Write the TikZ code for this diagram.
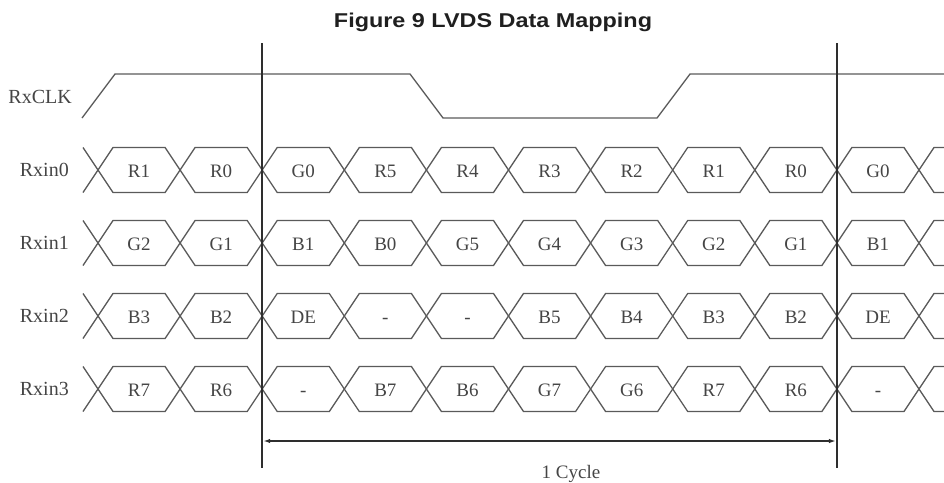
\documentclass[tikz,border=0pt]{standalone}
\usepackage{fontspec}
\setmainfont{Liberation Serif}
\newfontfamily\titlefont[FakeStretch=1.17]{Liberation Sans}
\usetikzlibrary{arrows.meta}
\definecolor{wave}{HTML}{5A5A5A}
\definecolor{txt}{HTML}{454545}
\definecolor{guide}{HTML}{2E2E2E}
\tikzset{
  wave/.style={draw=wave, line width=1.3pt, line join=miter},
  guideline/.style={draw=guide, line width=1.8pt},
  dimline/.style={draw=guide, line width=1.4pt, {Latex[length=7pt,width=4.5pt]}-{Latex[length=7pt,width=4.5pt]}},
  sig/.style={font=\fontsize{20}{20}\selectfont, text=txt, inner sep=0pt, anchor=base east},
  bit/.style={font=\fontsize{19}{19}\selectfont, text=txt, inner sep=0pt, anchor=base},
  ttl/.style={font=\titlefont\bfseries\fontsize{20}{20}\selectfont, text=black!88, inner sep=0pt, anchor=base},
}
\begin{document}
\begin{tikzpicture}[x=1pt,y=-1pt]
\useasboundingbox (0,0) rectangle (944,482);
\node[ttl] (title) at (493,27) {Figure 9 LVDS Data Mapping};
\begin{scope}
\clip (0,0) rectangle (944,482);
% clock
\node[sig] (clk) at (72,103) {RxCLK};
\draw[wave] (82,118) -- (115,74) -- (410,74) -- (443,118) -- (657,118) -- (690,74) -- (960,74);
% data rows
\foreach \name/\yy/\lbls in {
  Rxin0/170/{R1,R0,G0,R5,R4,R3,R2,R1,R0,G0},
  Rxin1/243/{G2,G1,B1,B0,G5,G4,G3,G2,G1,B1},
  Rxin2/316/{B3,B2,DE,-,-,B5,B4,B3,B2,DE},
  Rxin3/389/{R7,R6,-,B7,B6,G7,G6,R7,R6,-}} {
  \node[sig] (\name) at (69,\yy+6.5) {\name};
  \draw[wave] (83,\yy-22.5) -- (98,\yy) -- (83,\yy+22.5);
  \foreach \lab [count=\k from 0] in \lbls {
    \pgfmathsetmacro\xa{98+82.1*\k}
    \pgfmathsetmacro\xb{\xa+82.1}
    \draw[wave] (\xa,\yy) -- (\xa+15,\yy-22.5) -- (\xb-15,\yy-22.5) -- (\xb,\yy)
      -- (\xb-15,\yy+22.5) -- (\xa+15,\yy+22.5) -- cycle;
    \node[bit] (\name-\k) at ({(\xa+\xb)/2},\yy+7) {\lab};
  }
  \draw[wave] (960,\yy-22.5) -- (934,\yy-22.5) -- (919,\yy) -- (934,\yy+22.5) -- (960,\yy+22.5);
}
\end{scope}
% cycle boundaries
\coordinate (vAt) at (262.2,43);
\coordinate (vAb) at (262.2,468);
\coordinate (vBt) at (836.9,43);
\coordinate (vBb) at (836.9,468);
\draw[guideline] (vAt) -- (vAb);
\draw[guideline] (vBt) -- (vBb);
\coordinate (aL) at (263.2,441);
\coordinate (aR) at (835.9,441);
\draw[dimline] (aL) -- (aR);
\node[bit] (cyc) at (571,478) {1 Cycle};
\end{tikzpicture}
\end{document}
